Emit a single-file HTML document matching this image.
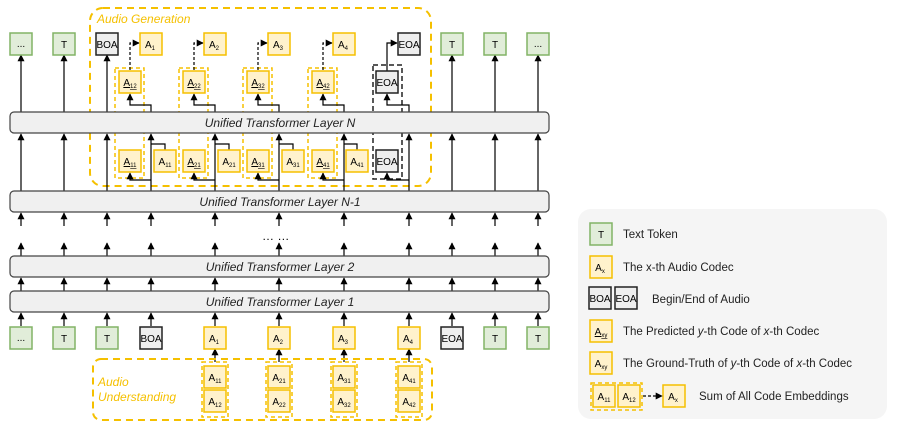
<!DOCTYPE html>
<html><head><meta charset="utf-8"><style>
html,body{margin:0;padding:0;background:#fff;}
svg{display:block;font-family:"Liberation Sans",sans-serif;}
</style></head><body>
<svg width="897" height="430" viewBox="0 0 897 430" xmlns="http://www.w3.org/2000/svg">
<defs>
<marker id="ah" viewBox="0 0 10 10" refX="9" refY="5" markerWidth="7" markerHeight="7" markerUnits="userSpaceOnUse" orient="auto"><path d="M0,0 L10,5 L0,10 z" fill="#000"/></marker>
<g id="yb"><rect x="-11" y="-11" width="22" height="22" fill="#fff2cc" stroke="#f5c000" stroke-width="1.5"/></g>
<g id="gb"><rect x="-11" y="-11" width="22" height="22" fill="#e1edd9" stroke="#82b366" stroke-width="1.5"/></g>
<g id="bb"><rect x="-11" y="-11" width="22" height="22" fill="#eeeeee" stroke="#222" stroke-width="1.5"/></g>
</defs>

<!-- Audio generation box -->
<rect x="90" y="8" width="341" height="178" rx="13" fill="none" stroke="#f5c000" stroke-width="2" stroke-dasharray="7,5"/>
<text x="97" y="23" font-size="12" font-style="italic" fill="#f5c000">Audio Generation</text>

<!-- tall dashed wrappers -->
<g fill="none" stroke="#f5c000" stroke-width="1.5" stroke-dasharray="4,3">
<rect x="115" y="68" width="29" height="110"/>
<rect x="179" y="68" width="29" height="110"/>
<rect x="243" y="68" width="29" height="110"/>
<rect x="308" y="68" width="29" height="110"/>
</g>
<rect x="373" y="65" width="29" height="114" fill="none" stroke="#222" stroke-width="1.5" stroke-dasharray="5,3"/>

<!-- connectors top region -->
<g stroke="#000" stroke-width="1.2" fill="none">
<!-- N to top tokens -->
<line x1="21" y1="112" x2="21" y2="55" marker-end="url(#ah)"/>
<line x1="64" y1="112" x2="64" y2="55" marker-end="url(#ah)"/>
<line x1="107" y1="112" x2="107" y2="55" marker-end="url(#ah)"/>
<line x1="452" y1="112" x2="452" y2="55" marker-end="url(#ah)"/>
<line x1="495" y1="112" x2="495" y2="55" marker-end="url(#ah)"/>
<line x1="538" y1="112" x2="538" y2="55" marker-end="url(#ah)"/>
<!-- N to predicted -->
<polyline points="151,112 151,105 130,105 130,94" marker-end="url(#ah)"/>
<polyline points="215,112 215,105 194,105 194,94" marker-end="url(#ah)"/>
<polyline points="279,112 279,105 258,105 258,94" marker-end="url(#ah)"/>
<polyline points="344,112 344,105 323,105 323,94" marker-end="url(#ah)"/>
<polyline points="409,112 409,105 387,105 387,94" marker-end="url(#ah)"/>
<!-- EOA to EOA -->
<polyline points="387,72 387,43 397,43" marker-end="url(#ah)"/>
<!-- dashed predicted to codec -->
<g stroke-dasharray="3,2">
<polyline points="130,70 130,43 139,43" marker-end="url(#ah)"/>
<polyline points="194,70 194,43 203,43" marker-end="url(#ah)"/>
<polyline points="258,70 258,43 267,43" marker-end="url(#ah)"/>
<polyline points="323,70 323,43 332,43" marker-end="url(#ah)"/>
</g>
<!-- N-1 to N -->
<line x1="21" y1="191" x2="21" y2="134" marker-end="url(#ah)"/>
<line x1="64" y1="191" x2="64" y2="134" marker-end="url(#ah)"/>
<line x1="107" y1="191" x2="107" y2="134" marker-end="url(#ah)"/>
<line x1="151" y1="191" x2="151" y2="134" marker-end="url(#ah)"/>
<line x1="215" y1="191" x2="215" y2="134" marker-end="url(#ah)"/>
<line x1="279" y1="191" x2="279" y2="134" marker-end="url(#ah)"/>
<line x1="344" y1="191" x2="344" y2="134" marker-end="url(#ah)"/>
<line x1="409" y1="191" x2="409" y2="134" marker-end="url(#ah)"/>
<line x1="452" y1="191" x2="452" y2="134" marker-end="url(#ah)"/>
<line x1="495" y1="191" x2="495" y2="134" marker-end="url(#ah)"/>
<line x1="538" y1="191" x2="538" y2="134" marker-end="url(#ah)"/>
<!-- plain GT into column -->
<polyline points="165,150 165,144 151,144"/>
<polyline points="229,150 229,144 215,144"/>
<polyline points="293,150 293,144 279,144"/>
<polyline points="357,150 357,144 344,144"/>
<!-- branch to underlined -->
<polyline points="151,180 130,180 130,173" marker-end="url(#ah)"/>
<polyline points="215,180 194,180 194,173" marker-end="url(#ah)"/>
<polyline points="279,180 258,180 258,173" marker-end="url(#ah)"/>
<polyline points="344,180 323,180 323,173" marker-end="url(#ah)"/>
<polyline points="409,180 387,180 387,173" marker-end="url(#ah)"/>
</g>

<!-- lower arrows -->
<g stroke="#000" stroke-width="1.2" fill="none">
<g id="row1">
<line x1="21" y1="226" x2="21" y2="213" marker-end="url(#ah)"/>
<line x1="64" y1="226" x2="64" y2="213" marker-end="url(#ah)"/>
<line x1="107" y1="226" x2="107" y2="213" marker-end="url(#ah)"/>
<line x1="151" y1="226" x2="151" y2="213" marker-end="url(#ah)"/>
<line x1="215" y1="226" x2="215" y2="213" marker-end="url(#ah)"/>
<line x1="279" y1="226" x2="279" y2="213" marker-end="url(#ah)"/>
<line x1="344" y1="226" x2="344" y2="213" marker-end="url(#ah)"/>
<line x1="409" y1="226" x2="409" y2="213" marker-end="url(#ah)"/>
<line x1="452" y1="226" x2="452" y2="213" marker-end="url(#ah)"/>
<line x1="495" y1="226" x2="495" y2="213" marker-end="url(#ah)"/>
<line x1="538" y1="226" x2="538" y2="213" marker-end="url(#ah)"/>
</g>
<use href="#row1" y="30"/>
<use href="#row1" y="65"/>
<use href="#row1" y="100"/>
<line x1="215" y1="362" x2="215" y2="349" marker-end="url(#ah)"/>
<line x1="279" y1="362" x2="279" y2="349" marker-end="url(#ah)"/>
<line x1="344" y1="362" x2="344" y2="349" marker-end="url(#ah)"/>
<line x1="409" y1="362" x2="409" y2="349" marker-end="url(#ah)"/>
</g>
<text x="262" y="240" font-size="12" fill="#000">… …</text>

<!-- layers -->
<g fill="#f0f0f0" stroke="#444" stroke-width="1.2">
<rect x="10" y="112" width="539" height="21" rx="4"/>
<rect x="10" y="191" width="539" height="21" rx="4"/>
<rect x="10" y="256" width="539" height="21" rx="4"/>
<rect x="10" y="291" width="539" height="21" rx="4"/>
</g>
<g font-size="12" font-style="italic" text-anchor="middle" fill="#222">
<text x="280" y="127">Unified Transformer Layer N</text>
<text x="280" y="206">Unified Transformer Layer N-1</text>
<text x="280" y="271">Unified Transformer Layer 2</text>
<text x="280" y="306">Unified Transformer Layer 1</text>
</g>

<!-- top tokens -->
<g font-size="10" text-anchor="middle" fill="#000">
<use href="#gb" x="21" y="44"/><text x="21" y="47">...</text>
<use href="#gb" x="64" y="44"/><text x="64" y="48">T</text>
<use href="#bb" x="107" y="44"/><text x="107" y="48">BOA</text>
<use href="#yb" x="151" y="44"/><text x="150" y="48">A<tspan font-size="6" dy="2">1</tspan></text>
<use href="#yb" x="215" y="44"/><text x="214" y="48">A<tspan font-size="6" dy="2">2</tspan></text>
<use href="#yb" x="279" y="44"/><text x="278" y="48">A<tspan font-size="6" dy="2">3</tspan></text>
<use href="#yb" x="344" y="44"/><text x="343" y="48">A<tspan font-size="6" dy="2">4</tspan></text>
<use href="#bb" x="409" y="44"/><text x="409" y="48">EOA</text>
<use href="#gb" x="452" y="44"/><text x="452" y="48">T</text>
<use href="#gb" x="495" y="44"/><text x="495" y="48">T</text>
<use href="#gb" x="538" y="44"/><text x="538" y="47">...</text>

<!-- predicted -->
<use href="#yb" x="130" y="82"/><text x="130" y="86" text-decoration="underline">A<tspan font-size="6" dy="2">12</tspan></text>
<use href="#yb" x="194" y="82"/><text x="194" y="86" text-decoration="underline">A<tspan font-size="6" dy="2">22</tspan></text>
<use href="#yb" x="258" y="82"/><text x="258" y="86" text-decoration="underline">A<tspan font-size="6" dy="2">32</tspan></text>
<use href="#yb" x="323" y="82"/><text x="323" y="86" text-decoration="underline">A<tspan font-size="6" dy="2">42</tspan></text>
<use href="#bb" x="387" y="82"/><text x="387" y="86">EOA</text>

<!-- lower row -->
<use href="#yb" x="130" y="161"/><text x="130" y="165" text-decoration="underline">A<tspan font-size="6" dy="2">11</tspan></text>
<use href="#yb" x="165" y="161"/><text x="165" y="165">A<tspan font-size="6" dy="2">11</tspan></text>
<use href="#yb" x="194" y="161"/><text x="194" y="165" text-decoration="underline">A<tspan font-size="6" dy="2">21</tspan></text>
<use href="#yb" x="229" y="161"/><text x="229" y="165">A<tspan font-size="6" dy="2">21</tspan></text>
<use href="#yb" x="258" y="161"/><text x="258" y="165" text-decoration="underline">A<tspan font-size="6" dy="2">31</tspan></text>
<use href="#yb" x="293" y="161"/><text x="293" y="165">A<tspan font-size="6" dy="2">31</tspan></text>
<use href="#yb" x="323" y="161"/><text x="323" y="165" text-decoration="underline">A<tspan font-size="6" dy="2">41</tspan></text>
<use href="#yb" x="357" y="161"/><text x="357" y="165">A<tspan font-size="6" dy="2">41</tspan></text>
<use href="#bb" x="387" y="161"/><text x="387" y="165">EOA</text>

<!-- bottom tokens -->
<use href="#gb" x="21" y="338"/><text x="21" y="341">...</text>
<use href="#gb" x="64" y="338"/><text x="64" y="342">T</text>
<use href="#gb" x="107" y="338"/><text x="107" y="342">T</text>
<use href="#bb" x="151" y="338"/><text x="151" y="342">BOA</text>
<use href="#yb" x="215" y="338"/><text x="214" y="342">A<tspan font-size="6" dy="2">1</tspan></text>
<use href="#yb" x="279" y="338"/><text x="278" y="342">A<tspan font-size="6" dy="2">2</tspan></text>
<use href="#yb" x="344" y="338"/><text x="343" y="342">A<tspan font-size="6" dy="2">3</tspan></text>
<use href="#yb" x="409" y="338"/><text x="408" y="342">A<tspan font-size="6" dy="2">4</tspan></text>
<use href="#bb" x="452" y="338"/><text x="452" y="342">EOA</text>
<use href="#gb" x="495" y="338"/><text x="495" y="342">T</text>
<use href="#gb" x="538" y="338"/><text x="538" y="342">T</text>
</g>

<!-- audio understanding -->
<rect x="93" y="359" width="339" height="61" rx="8" fill="none" stroke="#f5c000" stroke-width="2" stroke-dasharray="7,5"/>
<text x="98" y="386" font-size="12" font-style="italic" fill="#f5c000">Audio</text>
<text x="98" y="401" font-size="12" font-style="italic" fill="#f5c000">Understanding</text>
<g fill="none" stroke="#f5c000" stroke-width="1.5" stroke-dasharray="4,3">
<rect x="202" y="362" width="26" height="55"/>
<rect x="266" y="362" width="26" height="55"/>
<rect x="331" y="362" width="26" height="55"/>
<rect x="396" y="362" width="26" height="55"/>
</g>
<g font-size="10" text-anchor="middle" fill="#000">
<use href="#yb" x="215" y="377"/><text x="215" y="381">A<tspan font-size="6" dy="2">11</tspan></text>
<use href="#yb" x="215" y="401"/><text x="215" y="405">A<tspan font-size="6" dy="2">12</tspan></text>
<use href="#yb" x="279" y="377"/><text x="279" y="381">A<tspan font-size="6" dy="2">21</tspan></text>
<use href="#yb" x="279" y="401"/><text x="279" y="405">A<tspan font-size="6" dy="2">22</tspan></text>
<use href="#yb" x="344" y="377"/><text x="344" y="381">A<tspan font-size="6" dy="2">31</tspan></text>
<use href="#yb" x="344" y="401"/><text x="344" y="405">A<tspan font-size="6" dy="2">32</tspan></text>
<use href="#yb" x="409" y="377"/><text x="409" y="381">A<tspan font-size="6" dy="2">41</tspan></text>
<use href="#yb" x="409" y="401"/><text x="409" y="405">A<tspan font-size="6" dy="2">42</tspan></text>
</g>

<!-- legend -->
<rect x="578" y="209" width="309" height="210" rx="13" fill="#f5f5f5"/>
<g font-size="10" text-anchor="middle" fill="#000">
<use href="#gb" x="601" y="234"/><text x="601" y="238">T</text>
<use href="#yb" x="601" y="267"/><text x="600" y="271">A<tspan font-size="6" dy="2">x</tspan></text>
<use href="#bb" x="600" y="298"/><text x="600" y="302">BOA</text>
<use href="#bb" x="626" y="298"/><text x="626" y="302">EOA</text>
<use href="#yb" x="601" y="331"/><text x="601" y="335" text-decoration="underline">A<tspan font-size="6" dy="2">xy</tspan></text>
<use href="#yb" x="601" y="363"/><text x="601" y="367">A<tspan font-size="6" dy="2">xy</tspan></text>
<rect x="591" y="383" width="51" height="27" fill="none" stroke="#f5c000" stroke-width="1.5" stroke-dasharray="4,3"/>
<use href="#yb" x="604" y="396"/><text x="604" y="400">A<tspan font-size="6" dy="2">11</tspan></text>
<use href="#yb" x="629" y="396"/><text x="629" y="400">A<tspan font-size="6" dy="2">12</tspan></text>
<use href="#yb" x="674" y="396"/><text x="673" y="400">A<tspan font-size="6" dy="2">x</tspan></text>
</g>
<line x1="643" y1="396" x2="662" y2="396" stroke="#000" stroke-width="1.2" stroke-dasharray="3,2" marker-end="url(#ah)"/>
<g font-size="11.5" fill="#222">
<text x="623" y="238">Text Token</text>
<text x="623" y="271">The x-th Audio Codec</text>
<text x="652" y="303">Begin/End of Audio</text>
<text x="623" y="335">The Predicted <tspan font-style="italic">y</tspan>-th Code of <tspan font-style="italic">x</tspan>-th Codec</text>
<text x="623" y="367">The Ground-Truth of <tspan font-style="italic">y</tspan>-th Code of <tspan font-style="italic">x</tspan>-th Codec</text>
<text x="699" y="400">Sum of All Code Embeddings</text>
</g>
</svg>
</body></html>
